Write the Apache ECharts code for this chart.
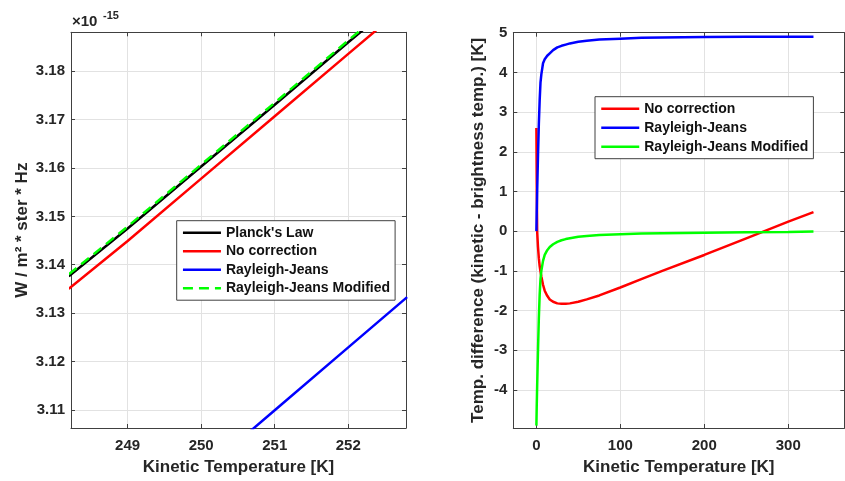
<!DOCTYPE html>
<html><head><meta charset="utf-8">
<script src="https://cdn.jsdelivr.net/npm/echarts@6/dist/echarts.min.js"></script>
<style>html,body{margin:0;padding:0;background:#fff}#c{width:845px;height:481px}</style>
</head><body><div id="c"></div>
<script>
// ---- Left panel: radiance (units of 1e-15 W / m^2 * ster * Hz) ----
const leftT   = [248.2, 249, 250, 251, 252, 252.8];
const planck  = [3.1376, 3.1475, 3.1603, 3.1731, 3.1860, 3.1962];
const noCorrL = [3.1350, 3.1449, 3.1578, 3.1707, 3.1836, 3.1939];
const rjL     = [3.0735, 3.0839, 3.0969, 3.1099, 3.1229, 3.1333];
const rjmL    = [3.1380, 3.1479, 3.1607, 3.1735, 3.1864, 3.1966];

// ---- Right panel: temperature difference [K] ----
const rightT  = [0.1, 0.5, 1, 2, 3, 4, 5, 6, 8, 10, 13, 16, 20, 25, 30, 35, 40, 50, 60, 75, 100, 125, 150, 200, 250, 300, 330];
const noCorrR = [2.6, 1.2, 0.0, -0.4, -0.68, -0.88, -1.02, -1.14, -1.35, -1.5, -1.63, -1.72, -1.78, -1.82, -1.83, -1.83, -1.82, -1.78, -1.72, -1.62, -1.42, -1.21, -1.0, -0.6, -0.18, 0.24, 0.48];
const rjR     = [0.0, 0.5, 1.0, 1.9, 2.7, 3.3, 3.75, 3.95, 4.23, 4.33, 4.42, 4.48, 4.56, 4.63, 4.67, 4.7, 4.73, 4.77, 4.8, 4.83, 4.85, 4.87, 4.88, 4.89, 4.9, 4.9, 4.9];
const rjmR    = [-4.9, -4.4, -3.9, -3.0, -2.2, -1.6, -1.2, -1.0, -0.75, -0.6, -0.48, -0.4, -0.33, -0.27, -0.23, -0.2, -0.18, -0.14, -0.12, -0.1, -0.08, -0.06, -0.05, -0.04, -0.03, -0.02, -0.01];

const leftNames  = ["Planck's Law", "No correction", "Rayleigh-Jeans", "Rayleigh-Jeans Modified"];
const rightNames = ["No correction", "Rayleigh-Jeans", "Rayleigh-Jeans Modified"];
const xTitle = "Kinetic Temperature [K]";
const yTitleL = "W / m² * ster * Hz";
const yTitleR = "Temp. difference (kinetic - brightness temp.) [K]";

const FONT = "'Liberation Sans', Arial, Helvetica, sans-serif";
const AX = '#404040', TXT = '#262626', GRID = '#e2e2e2';
const LW = 2.5;

const zip = (xs, ys) => xs.map((x, i) => [x, ys[i]]);

function mainAxis(extra) {
  return Object.assign({
    type: 'value',
    axisLine: { show: true, onZero: false, lineStyle: { color: AX, width: 1 } },
    axisTick: { show: true, inside: true, length: 4, lineStyle: { color: AX } },
    splitLine: { show: true, lineStyle: { color: GRID, width: 1 } },
    nameTextStyle: { color: TXT, fontFamily: FONT, fontWeight: 'bold', fontSize: 17 },
    nameLocation: 'middle'
  }, extra);
}
function mirrorAxis(extra) {
  return Object.assign({
    type: 'value',
    axisLine: { show: true, onZero: false, lineStyle: { color: AX, width: 1 } },
    axisTick: { show: true, inside: true, length: 4, lineStyle: { color: AX } },
    axisLabel: { show: false },
    splitLine: { show: false }
  }, extra);
}
function labels(margin, showMax) {
  return { show: true, showMinLabel: false, showMaxLabel: showMax, color: TXT, margin: margin,
           fontFamily: FONT, fontWeight: 'bold', fontSize: 15 };
}

const L = { xmin: 248.23, xmax: 252.785, ymin: 3.10623, ymax: 3.18807 };
const R = { xmin: -27.4, xmax: 366.7, ymin: -4.96, ymax: 5 };

function lineSeries(name, xi, yi, xs, ys, color, dash) {
  return {
    type: 'line', name: name, xAxisIndex: xi, yAxisIndex: yi,
    data: zip(xs, ys), symbol: 'none', smooth: false, clip: true,
    lineStyle: { color: color, width: LW, type: dash || 'solid' },
    itemStyle: { color: color }, emphasis: { disabled: true }
  };
}

const rightLabel = { r_no: rightNames[0], r_rj: rightNames[1], r_rjm: rightNames[2] };

const legendBase = {
  orient: 'vertical', padding: [5, 5, 5, 5], itemWidth: 38, itemHeight: 14,
  backgroundColor: '#fff', borderColor: AX, borderWidth: 1, borderRadius: 0,
  selectedMode: false,
  itemStyle: { opacity: 0, borderWidth: 0 },
  lineStyle: { width: 2.5 },
  textStyle: { color: '#111', fontFamily: FONT, fontWeight: 'bold', fontSize: 14 }
};

const option = {
  animation: false,
  backgroundColor: '#fff',
  grid: [
    { left: 71, top: 32.3, width: 335, height: 399.4 },
    { left: 513.3, top: 32.7, width: 331, height: 398.3 }
  ],
  xAxis: [
    mainAxis({ gridIndex: 0, position: 'bottom', min: L.xmin, max: L.xmax, splitNumber: 5,
               name: xTitle, nameGap: 31, axisLabel: labels(10, false) }),
    mirrorAxis({ gridIndex: 0, position: 'top', min: L.xmin, max: L.xmax, splitNumber: 5 }),
    mainAxis({ gridIndex: 1, position: 'bottom', min: R.xmin, max: R.xmax, splitNumber: 4,
               name: xTitle, nameGap: 31, axisLabel: labels(10, false) }),
    mirrorAxis({ gridIndex: 1, position: 'top', min: R.xmin, max: R.xmax, splitNumber: 4 })
  ],
  yAxis: [
    mainAxis({ gridIndex: 0, position: 'left', min: L.ymin, max: L.ymax, splitNumber: 8,
               name: yTitleL, nameGap: 40, axisLabel: labels(6, false) }),
    mirrorAxis({ gridIndex: 0, position: 'right', min: L.ymin, max: L.ymax, splitNumber: 8 }),
    mainAxis({ gridIndex: 1, position: 'left', min: R.ymin, max: R.ymax, splitNumber: 10,
               name: yTitleR, nameGap: 26, axisLabel: labels(6, true) }),
    mirrorAxis({ gridIndex: 1, position: 'right', min: R.ymin, max: R.ymax, splitNumber: 10 })
  ],
  legend: [
    Object.assign({}, legendBase, {
      data: leftNames, left: 176.7, top: 220.7, itemGap: 4.5
    }),
    Object.assign({}, legendBase, {
      data: ['r_no', 'r_rj', 'r_rjm'], left: 595, top: 96.7, itemGap: 5,
      formatter: n => rightLabel[n]
    })
  ],
  graphic: [
    { type: 'text', x: 72, y: 21.4, silent: true,
      style: { text: '×10', fill: TXT, font: 'bold 15px ' + FONT, verticalAlign: 'middle', align: 'left' } },
    { type: 'text', x: 103, y: 16.4, silent: true,
      style: { text: '-15', fill: TXT, font: 'bold 11px ' + FONT, verticalAlign: 'middle', align: 'left' } }
  ],
  series: [
    lineSeries(leftNames[0], 0, 0, leftT, planck, '#000000'),
    lineSeries(leftNames[1], 0, 0, leftT, noCorrL, '#ff0000'),
    lineSeries(leftNames[2], 0, 0, leftT, rjL, '#0000ff'),
    lineSeries(leftNames[3], 0, 0, leftT, rjmL, '#00ff00', [10, 6]),
    lineSeries('r_no', 2, 2, rightT, noCorrR, '#ff0000'),
    lineSeries('r_rj', 2, 2, rightT, rjR, '#0000ff'),
    lineSeries('r_rjm', 2, 2, rightT, rjmR, '#00ff00')
  ]
};

const chart = echarts.init(document.getElementById('c'), null, { renderer: 'canvas' });
chart.setOption(option);
</script>
</body></html>
